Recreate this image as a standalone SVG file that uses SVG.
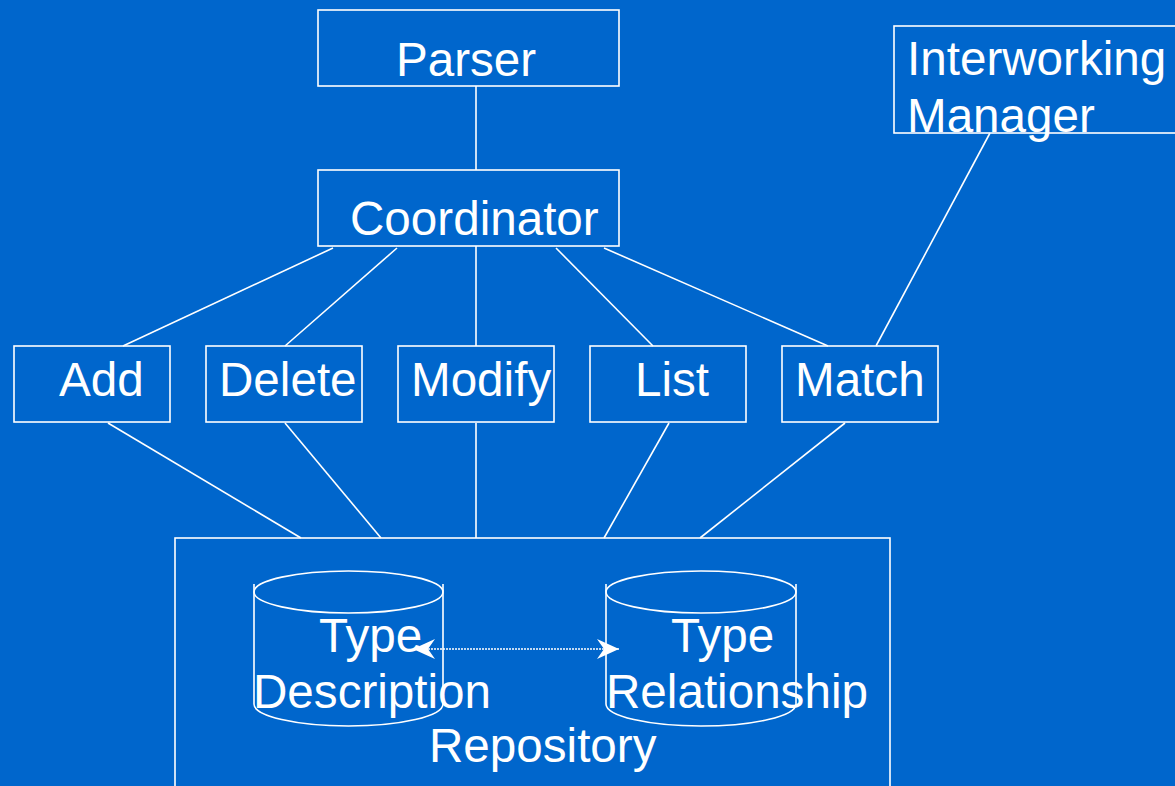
<svg xmlns="http://www.w3.org/2000/svg" width="1175" height="786" viewBox="0 0 1175 786">
<style>
.box{fill:none;stroke:#fff;stroke-width:1.6}
.ln{fill:none;stroke:#fff;stroke-width:1.6}
.t{font-family:"Liberation Sans",Arial,sans-serif;font-size:47.6px;fill:#fff}
</style>
<defs>
<marker id="ah" viewBox="0 0 22 20" refX="22" refY="10" markerWidth="22" markerHeight="20" markerUnits="userSpaceOnUse" orient="auto-start-reverse">
<path d="M0,0 L22,10 L0,20 L7,10 Z" fill="#fff"/>
</marker>
</defs>
<rect width="1175" height="786" fill="#0066CC"/>
<g id="connectors">
<line class="ln" x1="476" y1="86" x2="476" y2="170"/>
<line class="ln" x1="333" y1="248" x2="123" y2="346"/>
<line class="ln" x1="397" y1="248" x2="285" y2="346"/>
<line class="ln" x1="476" y1="246" x2="476" y2="346"/>
<line class="ln" x1="556" y1="248" x2="653" y2="346"/>
<line class="ln" x1="604" y1="248" x2="828" y2="346"/>
<line class="ln" x1="990" y1="133" x2="876" y2="346"/>
<line class="ln" x1="108" y1="423" x2="301" y2="538"/>
<line class="ln" x1="285" y1="423" x2="381" y2="538"/>
<line class="ln" x1="476" y1="423" x2="476" y2="538"/>
<line class="ln" x1="669" y1="423" x2="604" y2="538"/>
<line class="ln" x1="845" y1="423" x2="700" y2="538"/>
<line x1="413" y1="649" x2="619" y2="649" stroke="#fff" stroke-width="1.6" stroke-dasharray="2,1" marker-start="url(#ah)" marker-end="url(#ah)"/>
</g>
<g id="parser"><rect class="box" x="318" y="10" width="301" height="76"/><text class="t" x="396" y="76">Parser</text></g>
<g id="coordinator"><rect class="box" x="318" y="170" width="301" height="76"/><text class="t" x="350" y="235">Coordinator</text></g>
<g id="interworking"><rect class="box" x="894" y="26" width="290" height="107"/><text class="t" x="907" y="75">Interworking</text><text class="t" x="907" y="132">Manager</text></g>
<g id="add"><rect class="box" x="14" y="346" width="156" height="76"/><text class="t" x="59" y="396">Add</text></g>
<g id="delete"><rect class="box" x="206" y="346" width="156" height="76"/><text class="t" x="219" y="396">Delete</text></g>
<g id="modify"><rect class="box" x="398" y="346" width="156" height="76"/><text class="t" x="411" y="396">Modify</text></g>
<g id="list"><rect class="box" x="590" y="346" width="156" height="76"/><text class="t" x="635" y="396">List</text></g>
<g id="match"><rect class="box" x="782" y="346" width="156" height="76"/><text class="t" x="795" y="396">Match</text></g>
<g id="repository"><rect class="box" x="175" y="538" width="715" height="260"/><text class="t" x="429" y="762">Repository</text></g>
<g id="typedescription">
<ellipse class="box" cx="348.5" cy="592" rx="94.5" ry="21"/>
<path class="ln" d="M254,584 V704 A94.5,22 0 0 0 443,704 V584"/>
<text class="t" x="319" y="652">Type</text><text class="t" x="253" y="708">Description</text>
</g>
<g id="typerelationship">
<ellipse class="box" cx="701" cy="592" rx="95" ry="21"/>
<path class="ln" d="M606,584 V704 A95,22 0 0 0 796,704 V584"/>
<text class="t" x="671" y="652">Type</text><text class="t" x="606" y="708">Relationship</text>
</g>
</svg>
